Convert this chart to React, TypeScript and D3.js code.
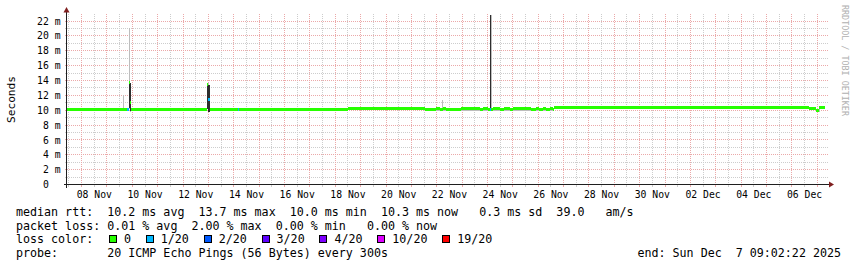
import React from "react";
import * as d3 from "d3";

const parse = d3.utcParse("%Y-%m-%dT%H:%M:%S");
const parseShort = d3.utcParse("%Y-%m-%dT%H:%M");

const T_START = "2025-11-07T09:02:22";
const T_END = "2025-12-07T09:02:22";
const DATA_END = "2025-12-07T07:25";

const lossLabels = ["0", "1/20", "2/20", "3/20", "4/20", "10/20", "19/20"];
const lossColors = ["#26ff00", "#00b8ff", "#0059ff", "#5e00ff", "#7e00ff", "#dd00ff", "#ff0000"];

const yMajorTicks = [0, 2, 4, 6, 8, 10, 12, 14, 16, 18, 20, 22];
const yMinorTicks = [1, 3, 5, 7, 9, 11, 13, 15, 17, 19, 21];

// piecewise segments (start time of each segment)
const segStart = [
  "2025-11-07T09:02", "2025-11-09T15:00", "2025-11-09T16:00", "2025-11-09T18:30",
  "2025-11-09T20:30", "2025-11-09T21:30", "2025-11-09T23:00", "2025-11-12T22:50",
  "2025-11-12T23:50", "2025-11-13T01:45", "2025-11-14T03:30", "2025-11-14T04:30",
  "2025-11-18T12:00", "2025-11-21T13:00", "2025-11-21T23:35", "2025-11-22T02:40",
  "2025-11-22T04:45", "2025-11-22T05:45", "2025-11-22T09:05", "2025-11-22T23:15",
  "2025-11-23T16:35", "2025-11-23T19:40", "2025-11-24T00:30", "2025-11-24T02:30",
  "2025-11-24T03:30", "2025-11-24T05:05", "2025-11-24T11:30", "2025-11-24T16:05",
  "2025-11-24T20:55", "2025-11-25T00:00", "2025-11-25T17:30", "2025-11-25T22:05",
  "2025-11-26T01:10", "2025-11-26T04:20", "2025-11-26T07:40", "2025-11-26T10:45",
  "2025-11-26T13:50", "2025-11-26T15:00", "2025-12-06T16:00", "2025-12-06T23:00",
  "2025-12-07T01:00", "2025-12-07T02:00",
];
const segMedian = [
  10.15, 10.15, 10.15, 10.15,
  13.7, 11.0, 10.15, 13.4,
  11.5, 10.15, 10.15, 10.15,
  10.25, 10.05, 10.25, 10.05,
  10.05, 10.25, 10.05, 10.25,
  10.05, 10.25, 10.05, 10.1,
  10.05, 10.25, 10.05, 10.25,
  10.05, 10.25, 10.05, 10.25,
  10.05, 10.25, 10.05, 10.25,
  10.05, 10.3, 10.2, 10.0,
  9.9, 10.3,
];
const segLoss = [
  0, 0, 0, 1,
  0, 0, 0, 0,
  1, 0, 1, 0,
  0, 0, 0, 0,
  0, 0, 0, 0,
  0, 0, 0, 1,
  0, 0, 0, 0,
  0, 0, 0, 0,
  0, 0, 0, 0,
  0, 0, 0, 0,
  0, 0,
];
const segSmokeLo = [
  10.05, 10.05, 10.05, 10.05,
  10.2, 9.8, 10.05, 10.2,
  9.8, 10.05, 10.05, 10.05,
  10.1, 9.95, 9.95, 9.95,
  9.95, 9.95, 9.95, 9.95,
  9.95, 9.95, 9.95, 10.0,
  9.95, 9.95, 9.95, 9.95,
  9.95, 9.95, 9.95, 9.95,
  9.95, 9.95, 9.95, 9.95,
  9.95, 10.15, 10.1, 9.9,
  9.8, 10.15,
];
const segSmokeHi = [
  10.3, 12.0, 10.3, 10.3,
  21.0, 13.7, 10.3, 13.6,
  13.4, 10.3, 10.3, 10.3,
  10.42, 10.2, 10.35, 10.2,
  11.4, 10.35, 10.2, 10.35,
  10.2, 10.35, 10.2, 22.8,
  10.2, 10.35, 10.2, 10.35,
  10.2, 10.35, 10.2, 10.35,
  10.2, 10.35, 10.2, 10.35,
  10.2, 10.5, 10.45, 10.2,
  10.1, 10.5,
];
// dark core of the smoke (only where the pings spread out)
const segCoreLo: (number | null)[] = [
  null, null, null, null,
  10.3, 9.9, null, 10.2,
  9.8, null, null, null,
  null, null, null, null,
  null, null, null, null,
  null, null, null, 10.1,
  null, null, null, null,
  null, null, null, null,
  null, null, null, null,
  null, null, null, null,
  null, null,
];
const segCoreHi: (number | null)[] = [
  null, null, null, null,
  13.7, 13.7, null, 13.4,
  13.4, null, null, null,
  null, null, null, null,
  null, null, null, null,
  null, null, null, 22.8,
  null, null, null, null,
  null, null, null, null,
  null, null, null, null,
  null, null, null, null,
  null, null,
];

const legendRows = [
  "median rtt:  10.2 ms avg  13.7 ms max  10.0 ms min  10.3 ms now   0.3 ms sd  39.0   am/s",
  "packet loss: 0.01 % avg  2.00 % max  0.00 % min   0.00 % now",
];
const probeText = "probe:       20 ICMP Echo Pings (56 Bytes) every 300s";
const endText = "end: Sun Dec  7 09:02:22 2025";

const MONO = "'DejaVu Sans Mono', monospace";
const CHAR_W = 7.02;

export default function App() {
  const t0 = parse(T_START)!;
  const t1 = parse(T_END)!;
  const xs = d3.scaleUtc().domain([t0, t1]).range([65.8, 826.8]);
  const ys = d3.scaleLinear().domain([0, 23]).range([184.5, 13.6]);

  const X0 = 66.5, X1 = 829, Y0 = 184.5, Y1 = 13.6;

  const minorX = xs.ticks(d3.utcHour.every(12)!).filter((d) => d.getUTCHours() === 12);
  const majorX = xs.ticks(d3.utcDay.every(1)!);
  const labelX = majorX.filter((d) => d.getUTCDate() % 2 === 0);
  const fmt = d3.utcFormat("%d %b");

  const starts = segStart.map((s) => parseShort(s)!);
  const dataEnd = parseShort(DATA_END)!;
  const segs = starts.map((s, i) => ({
    x0: xs(s),
    x1: xs(i + 1 < starts.length ? starts[i + 1] : dataEnd),
    med: segMedian[i],
    loss: segLoss[i],
    sLo: segSmokeLo[i],
    sHi: segSmokeHi[i],
    cLo: segCoreLo[i],
    cHi: segCoreHi[i],
  }));

  const px = (v: number) => Math.floor(v) + 0.5;

  // legend boxes layout
  let bx = 109;
  const boxes = lossLabels.map((lab, i) => {
    const b = { x: bx, tx: bx + 15, lab, color: lossColors[i] };
    bx = bx + 15 + lab.length * CHAR_W + 14.8;
    return b;
  });

  const minorCol = "#cdcdcd";
  const majorCol = "#eba9a9";

  return (
    <svg
      width={857}
      height={267}
      style={{ position: "absolute", left: 0, top: 0, background: "#ffffff" }}
      xmlns="http://www.w3.org/2000/svg"
    >
      <defs>
        <clipPath id="plot">
          <rect x={X0} y={Y1} width={X1 - X0} height={Y0 - Y1} />
        </clipPath>
      </defs>
      <rect x={0} y={0} width={857} height={267} fill="#ffffff" />

      {/* grid */}
      <g strokeWidth={1} shapeRendering="crispEdges">
        {yMinorTicks.map((v) => (
          <g key={"ym" + v} stroke={minorCol}>
            <line x1={X0 - 2} x2={X0} y1={px(ys(v))} y2={px(ys(v))} />
            <line x1={X0} x2={X1} y1={px(ys(v))} y2={px(ys(v))} strokeDasharray="1,1" />
          </g>
        ))}
        {minorX.map((d) => (
          <g key={"xm" + d.getTime()} stroke={minorCol}>
            <line x1={px(xs(d))} x2={px(xs(d))} y1={Y0} y2={Y0 + 2} />
            <line x1={px(xs(d))} x2={px(xs(d))} y1={Y1} y2={Y0} strokeDasharray="1,1" />
          </g>
        ))}
        {yMajorTicks.filter((v) => v > 0).map((v) => (
          <g key={"yM" + v} stroke={majorCol}>
            <line x1={X0 - 2} x2={X0} y1={px(ys(v))} y2={px(ys(v))} />
            <line x1={X0} x2={X1} y1={px(ys(v))} y2={px(ys(v))} strokeDasharray="1,1" />
          </g>
        ))}
        {majorX.map((d) => (
          <g key={"xM" + d.getTime()} stroke={majorCol}>
            <line x1={px(xs(d))} x2={px(xs(d))} y1={Y0} y2={Y0 + 2} />
            <line x1={px(xs(d))} x2={px(xs(d))} y1={Y1} y2={Y0} strokeDasharray="1,1" />
          </g>
        ))}
      </g>

      {/* data */}
      <g clipPath="url(#plot)" shapeRendering="crispEdges">
        {segs.map((s, i) => (
          <rect
            key={"s" + i}
            x={s.x0}
            width={Math.max(1.5, s.x1 - s.x0)}
            y={ys(s.sHi)}
            height={ys(s.sLo) - ys(s.sHi)}
            fill="#bdbdbd"
          />
        ))}
        {segs.map((s, i) =>
          s.cLo != null && s.cHi != null ? (
            <rect
              key={"c" + i}
              x={s.x0}
              width={Math.max(1, s.x1 - s.x0)}
              y={ys(s.cHi)}
              height={ys(s.cLo) - ys(s.cHi)}
              fill="#2e2e2e"
            />
          ) : null
        )}
        {segs.map((s, i) => (
          <rect
            key={"m" + i}
            x={s.x0}
            width={Math.max(1, s.x1 - s.x0)}
            y={ys(s.med) - 1.5}
            height={3}
            fill={lossColors[s.loss]}
          />
        ))}
      </g>

      {/* axes */}
      <g stroke="#1f1f1f" strokeWidth={1} shapeRendering="crispEdges">
        <line x1={X0} x2={X0} y1={Y0 + 3} y2={9} />
        <line x1={X0 - 3} x2={X1 + 1} y1={Y0} y2={Y0} />
      </g>
      <polygon points={`${X0 - 3},12.5 ${X0 + 3},12.5 ${X0},7`} fill="#7f1f1f" />
      <polygon points={`${X1},${Y0 - 3} ${X1},${Y0 + 3} ${X1 + 5},${Y0}`} fill="#7f1f1f" />

      {/* y labels */}
      <g fontFamily={MONO} fontSize={9.75} fill="#000" textAnchor="end">
        {yMajorTicks.map((v) => (
          <text
            key={"yl" + v}
            x={v === 0 ? 60.6 - 2 * 5.87 : 60.6}
            y={ys(v) + 3.6}
          >
            {v === 0 ? "0" : `${v} m`}
          </text>
        ))}
      </g>
      {/* x labels */}
      <g fontFamily={MONO} fontSize={9.75} fill="#000" textAnchor="middle">
        {labelX.map((d) => (
          <text key={"xl" + d.getTime()} x={xs(d3.utcHour.offset(d, 12))} y={198}>
            {fmt(d)}
          </text>
        ))}
      </g>

      <text
        transform="translate(14.5,99.5) rotate(-90)"
        fontFamily={MONO}
        fontSize={11.2}
        textAnchor="middle"
        fill="#000"
      >
        Seconds
      </text>
      <text
        transform="translate(842,5) rotate(90)"
        fontFamily={MONO}
        fontSize={8.4}
        fill="#b0b0b0"
      >
        RRDTOOL / TOBI OETIKER
      </text>

      {/* legend */}
      <g fontFamily={MONO} fontSize={11.67} fill="#000" style={{ whiteSpace: "pre" }}>
        <text x={16} y={216} xmlSpace="preserve">{legendRows[0]}</text>
        <text x={16} y={229.5} xmlSpace="preserve">{legendRows[1]}</text>
        <text x={16} y={243} xmlSpace="preserve">loss color:</text>
        {boxes.map((b) => (
          <g key={b.lab}>
            <rect x={b.x + 0.5} y={235.5} width={7} height={7} fill={b.color} stroke="#000" strokeWidth={1} shapeRendering="crispEdges" />
            <text x={b.tx} y={243}>{b.lab}</text>
          </g>
        ))}
        <text x={16} y={256.6} xmlSpace="preserve">{probeText}</text>
        <text x={841} y={256.6} textAnchor="end" xmlSpace="preserve">{endText}</text>
      </g>
    </svg>
  );
}
